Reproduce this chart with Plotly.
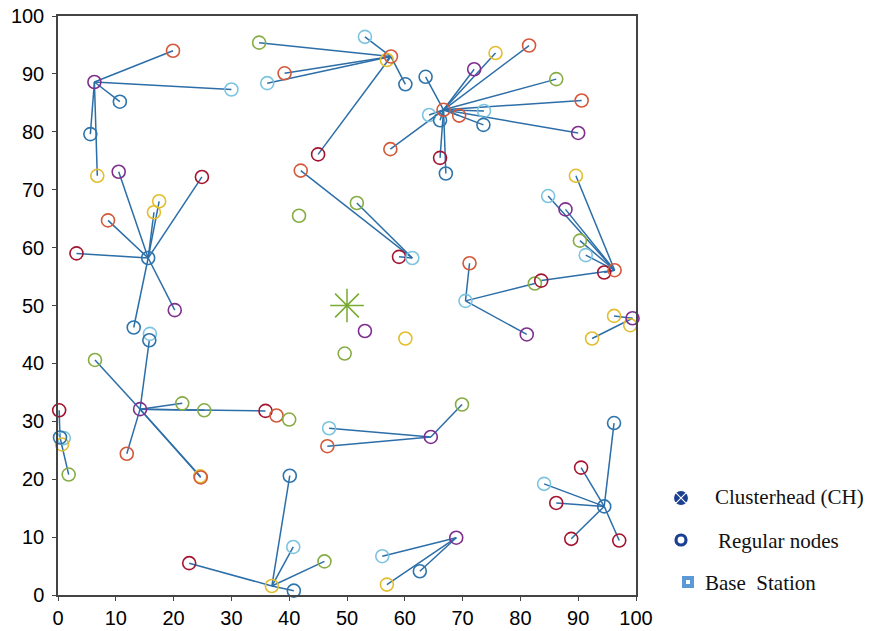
import plotly.graph_objects as go

# ---------------- data ----------------
# cluster heads
head_id = ["A", "B", "C", "D", "E", "W", "F", "G", "H", "I", "J", "K", "L", "M"]
head_x = [6.3, 57.6, 66.7, 15.6, 14.2, 0.35, 37.0, 61.3, 70.5, 96.3, 99.4, 64.5, 68.9, 94.5]
head_y = [88.6, 93.0, 83.8, 58.2, 32.1, 27.2, 1.55, 58.2, 50.8, 56.1, 47.8, 27.3, 9.9, 15.3]
head_c = ["P", "O", "O", "B", "P", "B", "Y", "L", "L", "O", "P", "P", "P", "B"]

# regular nodes: x, y, colour key, cluster head they report to ("" = none)
node_x = [19.9, 30.0, 10.7, 5.6, 6.8,
          56.9, 53.1, 60.1, 34.8, 39.2, 36.2, 45.0,
          63.6, 72.0, 75.7, 81.5, 86.2, 90.6, 90.0, 64.2, 66.1, 69.4, 73.7, 73.6, 57.5, 66.1, 67.1,
          10.5, 24.9, 17.5, 16.6, 8.65, 3.2, 20.2, 13.1,
          15.9, 15.8, 6.4, 21.5, 25.3, 35.9, 37.8, 40.0, 11.9, 24.6, 24.7,
          1.0, 0.7, 0.2, 1.85,
          40.1, 40.7, 46.1, 22.7, 40.8,
          59.0, 51.7, 42.0,
          41.7, 53.1, 49.6, 60.1,
          71.2, 81.1, 82.5,
          94.5, 83.6, 84.8, 87.8, 90.3, 91.3, 89.6,
          96.2, 99.0, 92.4,
          69.9, 46.9, 46.6,
          56.1, 62.6, 56.9,
          96.2, 90.5, 84.1, 86.2, 88.8, 97.1]
node_y = [94.0, 87.3, 85.2, 79.6, 72.4,
          92.4, 96.4, 88.2, 95.4, 90.1, 88.4, 76.1,
          89.5, 90.8, 93.6, 94.9, 89.1, 85.4, 79.8, 82.9, 82.0, 82.8, 83.6, 81.2, 77.0, 75.5, 72.8,
          73.1, 72.2, 68.0, 66.1, 64.7, 59.0, 49.2, 46.2,
          45.1, 44.0, 40.6, 33.1, 31.9, 31.8, 31.0, 30.3, 24.4, 20.5, 20.3,
          27.1, 26.0, 31.9, 20.8,
          20.6, 8.3, 5.8, 5.5, 0.75,
          58.4, 67.7, 73.3,
          65.5, 45.6, 41.7, 44.3,
          57.3, 45.0, 53.8,
          55.7, 54.3, 68.9, 66.6, 61.2, 58.7, 72.4,
          48.2, 46.6, 44.3,
          32.9, 28.8, 25.7,
          6.7, 4.1, 1.8,
          29.7, 22.0, 19.2, 15.9, 9.7, 9.4]
node_c = ["O", "L", "B", "B", "Y",
          "Y", "L", "B", "G", "O", "L", "R",
          "B", "P", "Y", "O", "G", "O", "P", "L", "B", "O", "L", "B", "O", "R", "B",
          "P", "R", "Y", "Y", "O", "R", "P", "B",
          "L", "B", "G", "G", "G", "R", "O", "G", "O", "Y", "O",
          "L", "Y", "R", "G",
          "B", "L", "G", "R", "B",
          "R", "G", "O",
          "G", "P", "G", "Y",
          "O", "P", "G",
          "R", "R", "L", "P", "G", "L", "Y",
          "Y", "Y", "Y",
          "G", "L", "O",
          "L", "B", "Y",
          "B", "R", "L", "R", "R", "R"]
node_k = ["A", "A", "A", "A", "A",
          "B", "B", "B", "B", "B", "B", "B",
          "C", "C", "C", "C", "C", "C", "C", "C", "C", "C", "C", "C", "C", "C", "C",
          "D", "D", "D", "D", "D", "D", "D", "D",
          "", "E", "E", "E", "E", "E", "", "", "E", "E", "E",
          "", "", "W", "W",
          "F", "F", "F", "F", "F",
          "G", "G", "G",
          "", "", "", "",
          "H", "H", "H",
          "I", "I", "I", "I", "I", "I", "I",
          "J", "", "J",
          "K", "K", "K",
          "L", "L", "L",
          "M", "M", "M", "M", "M", "M"]

base_x = [50]
base_y = [50]

x_ticks = [0, 10, 20, 30, 40, 50, 60, 70, 80, 90, 100]
y_ticks = [0, 10, 20, 30, 40, 50, 60, 70, 80, 90, 100]

legend_labels = ["Clusterhead (CH)", "Regular nodes", "Base\u00a0 Station"]

# ---------------- styles ----------------
palette = {
    "B": "#2f74ab",
    "O": "#d4583a",
    "Y": "#e3bd2e",
    "P": "#7e2f8e",
    "G": "#86ad45",
    "L": "#7cc4df",
    "R": "#a2142f",
}
link_color = "#2c6ea8"

# figure fills the whole window (body margin removed by post_script)
FIG_W = 876
FIG_H = 631
L_M = 58
T_M = 16
B_M = FIG_H - 595
PLOT_W = FIG_W - L_M
main_end = (636 - L_M) / PLOT_W
leg_start = (660 - L_M) / PLOT_W

fig = go.Figure()

# links from nodes to their cluster head
hx = dict(zip(head_id, head_x))
hy = dict(zip(head_id, head_y))
lx, ly = [], []
for x, y, k in zip(node_x, node_y, node_k):
    if k:
        lx += [hx[k], x, None]
        ly += [hy[k], y, None]
fig.add_trace(go.Scatter(x=lx, y=ly, mode="lines",
                         line=dict(color=link_color, width=1.5),
                         hoverinfo="skip", showlegend=False))

# regular node circles
fig.add_trace(go.Scatter(
    x=node_x, y=node_y, mode="markers", cliponaxis=False, showlegend=False,
    marker=dict(symbol="circle-open", size=13,
                line=dict(width=1.6, color=[palette[c] for c in node_c]),
                color=[palette[c] for c in node_c])))

# cluster head circles
fig.add_trace(go.Scatter(
    x=head_x, y=head_y, mode="markers", cliponaxis=False, showlegend=False,
    marker=dict(symbol="circle-open", size=13,
                line=dict(width=1.6, color=[palette[c] for c in head_c]),
                color=[palette[c] for c in head_c])))

# base station
fig.add_trace(go.Scatter(
    x=base_x, y=base_y, mode="markers", showlegend=False,
    marker=dict(symbol="asterisk-open", size=28, color="#77ac30",
                line=dict(width=1.5, color="#77ac30"))))

# ---------------- legend on a helper axis (window pixel coordinates) ----------------
leg_dark = "#1b3f91"
fig.add_trace(go.Scatter(x=[681], y=[498], xaxis="x2", yaxis="y2", mode="markers",
                         showlegend=False, hoverinfo="skip",
                         marker=dict(symbol="circle-x", size=15, color=leg_dark,
                                     line=dict(width=1.1, color="#ffffff"))))
fig.add_trace(go.Scatter(x=[681], y=[540], xaxis="x2", yaxis="y2", mode="markers",
                         showlegend=False, hoverinfo="skip",
                         marker=dict(symbol="circle-open", size=10, color=leg_dark,
                                     line=dict(width=3.2, color=leg_dark))))
fig.add_trace(go.Scatter(x=[688], y=[582], xaxis="x2", yaxis="y2", mode="markers",
                         showlegend=False, hoverinfo="skip",
                         marker=dict(symbol="square-open", size=8, color="#5b9bd5",
                                     line=dict(width=4, color="#5b9bd5"))))

legend_pos = [(713, 497), (716, 541), (703, 583)]
for (tx, ty), txt in zip(legend_pos, legend_labels):
    fig.add_annotation(x=tx, y=ty, xref="x2", yref="y2", text=txt,
                       showarrow=False, xanchor="left", yanchor="middle",
                       font=dict(family="Liberation Serif, Times New Roman, serif",
                                 size=21, color="#111111"))

axis_font = dict(family="Liberation Sans, Arial, sans-serif", size=20, color="#000000")

fig.update_layout(
    width=FIG_W, height=FIG_H, autosize=False,
    margin=dict(l=L_M, r=0, t=T_M, b=B_M, pad=0),
    paper_bgcolor="white", plot_bgcolor="white",
    showlegend=False,
    xaxis=dict(domain=[0, main_end], range=[0, 100], tickvals=x_ticks,
               ticks="outside", ticklen=4, tickwidth=1.2, tickcolor="#444",
               showline=True, linecolor="#444", linewidth=1.5, mirror=True,
               showgrid=False, zeroline=False, tickfont=axis_font, anchor="y",
               automargin=False, ticklabeloverflow="allow"),
    yaxis=dict(domain=[0, 1], range=[0, 100], tickvals=y_ticks,
               ticks="outside", ticklen=4, tickwidth=1.2, tickcolor="#444",
               showline=True, linecolor="#444", linewidth=1.5, mirror=True,
               showgrid=False, zeroline=False, tickfont=axis_font, anchor="x",
               automargin=False, ticklabeloverflow="allow", ticklabelstandoff=4),
    xaxis2=dict(domain=[leg_start, 1], range=[660, 876], visible=False,
                anchor="y2", fixedrange=True),
    yaxis2=dict(domain=[0, 1], range=[595, 16], visible=False,
                anchor="x2", fixedrange=True),
)

fig.write_html(
    "out.html",
    config={"responsive": False, "displayModeBar": False},
    post_script="document.body.style.margin='0px';document.body.style.overflow='hidden';",
)
